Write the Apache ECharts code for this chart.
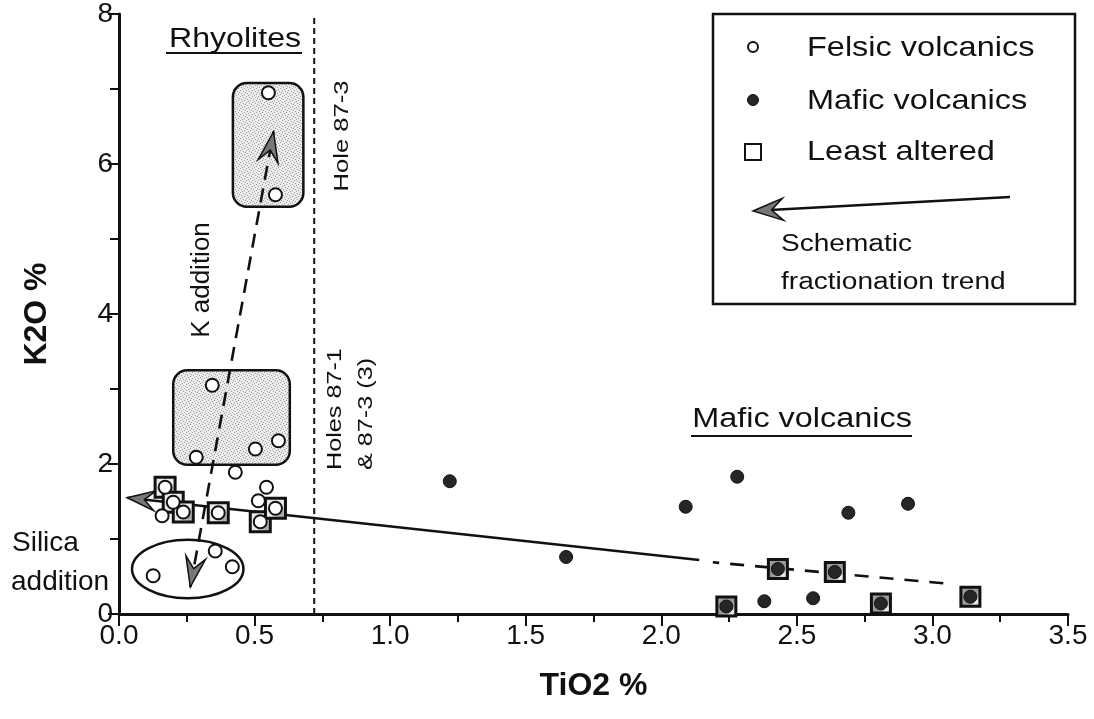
<!DOCTYPE html>
<html>
<head>
<meta charset="utf-8">
<script src="https://cdn.jsdelivr.net/npm/echarts@6/dist/echarts.min.js"></script>
<style>
  html, body { margin: 0; padding: 0; background: #fff; }
  #chart { width: 1094px; height: 719px; }
</style>
</head>
<body>
<div id="chart"></div>
<script>
// Axis ticks
const xTickValues = [0, 0.5, 1, 1.5, 2, 2.5, 3, 3.5];
const yTickValues = [0, 2, 4, 6, 8];

// TiO2 %, K2O %
const felsic = [
  [0.551, 6.95], [0.577, 5.59], [0.344, 3.05], [0.285, 2.09], [0.503, 2.20],
  [0.588, 2.31], [0.429, 1.89], [0.544, 1.69], [0.514, 1.51], [0.159, 1.31],
  [0.126, 0.51], [0.355, 0.84], [0.418, 0.63]
];
const mafic = [
  [1.22, 1.77], [1.649, 0.76], [2.09, 1.43], [2.28, 1.83], [2.38, 0.17],
  [2.56, 0.21], [2.69, 1.35], [2.91, 1.47]
];
const leastAlteredFelsic = [
  [0.170, 1.69], [0.200, 1.49], [0.237, 1.36], [0.366, 1.35], [0.521, 1.23], [0.577, 1.41]
];
const leastAlteredMafic = [
  [2.24, 0.10], [2.43, 0.60], [2.64, 0.56], [2.81, 0.14], [3.14, 0.23]
];

// Drill-hole boundary (TiO2 %)
const holeBoundary = [[0.72, 0], [0.72, 8]];
// Rhyolite fields: [xMin, yMin, xMax, yMax]
const rhyoliteFields = [[0.42, 5.43, 0.68, 7.08], [0.20, 1.99, 0.63, 3.25]];
// Silica-addition field: [xMin, yMin, xMax, yMax] of the ellipse
const silicaField = [[0.048, 0.21, 0.459, 0.99]];
// Fractionation trend (solid part ends in an arrow, dashed tail)
const trendSolid = [[2.14, 0.72, 0.03, 1.55]];
const trendDashed = [[3.04, 0.41, 2.19, 0.69]];
// K addition / silica addition vector (arrows at both ends)
const kAddition = [[0.263, 0.36, 0.57, 6.43]];

const FONT = '"Liberation Sans", Arial, Helvetica, sans-serif';

// light stipple used for the rhyolite fields and the least-altered squares
function makeStipple(bg, dots, dotColor) {
  const c = document.createElement('canvas');
  c.width = 6; c.height = 6;
  const g = c.getContext('2d');
  g.fillStyle = bg; g.fillRect(0, 0, 6, 6);
  g.fillStyle = dotColor;
  dots.forEach(d => g.fillRect(d[0], d[1], 1, 1));
  return { image: c, repeat: 'repeat' };
}
const stippleLight = makeStipple('#ececec', [[0,0],[3,1],[1,3],[4,4],[2,5],[5,2]], '#9a9a9a');
const stippleDark = makeStipple('#9a9a9a', [[0,0],[3,1],[1,3],[4,4],[2,5],[5,2]], '#ffffff');

function arrowHead(tip, from, len, half) {
  const dx = tip[0] - from[0], dy = tip[1] - from[1];
  const d = Math.hypot(dx, dy);
  const ux = dx / d, uy = dy / d;
  const px = -uy, py = ux;
  const bx = tip[0] - ux * len, by = tip[1] - uy * len;
  const nx = tip[0] - ux * len * 0.62, ny = tip[1] - uy * len * 0.62;
  return [tip, [bx + px * half, by + py * half], [nx, ny], [bx - px * half, by - py * half]];
}

function segmentRenderer(opts) {
  return function (params, api) {
    const a = api.coord([api.value(0), api.value(1)]);
    const b = api.coord([api.value(2), api.value(3)]);
    const children = [{
      type: 'line',
      shape: { x1: a[0], y1: a[1], x2: b[0], y2: b[1] },
      style: { stroke: '#111', lineWidth: opts.width, lineDash: opts.dash || null, fill: null }
    }];
    if (opts.headEnd) {
      children.push({ type: 'polygon', shape: { points: arrowHead(b, a, opts.len, opts.half) },
        style: { fill: '#777', stroke: '#111', lineWidth: 1.5 } });
    }
    if (opts.headStart) {
      children.push({ type: 'polygon', shape: { points: arrowHead(a, b, opts.len, opts.half) },
        style: { fill: '#777', stroke: '#111', lineWidth: 1.5 } });
    }
    return { type: 'group', children: children };
  };
}

const chart = echarts.init(document.getElementById('chart'), null, { renderer: 'canvas' });

function textEl(text, x, y, size, opts) {
  opts = opts || {};
  return {
    type: 'text', x: x, y: y, rotation: opts.rot || 0, scaleX: opts.sx || 1, z: 100,
    style: {
      text: text, fill: '#111', font: (opts.weight || 'normal') + ' ' + size + 'px ' + FONT,
      textAlign: opts.align || 'center', textVerticalAlign: opts.valign || 'middle'
    }
  };
}
function lineEl(x1, y1, x2, y2, w) {
  return { type: 'line', z: 100, shape: { x1: x1, y1: y1, x2: x2, y2: y2 }, style: { stroke: '#111', lineWidth: w } };
}

const legendArrow = arrowHead([753, 211], [1010, 197], 30, 11);

const option = {
  animation: false,
  backgroundColor: '#fff',
  grid: { left: 119, right: 26, top: 14, bottom: 105 },
  xAxis: {
    type: 'value', min: 0, max: 3.5, interval: 0.5,
    name: 'TiO2 %', nameLocation: 'middle', nameGap: 56,
    nameTextStyle: { fontFamily: FONT, fontWeight: 'bold', fontSize: 32, color: '#111' },
    axisLine: { show: true, onZero: false, lineStyle: { color: '#111', width: 3 } },
    axisTick: { show: true, inside: false, length: 12, lineStyle: { color: '#111', width: 2 } },
    minorTick: { show: true, splitNumber: 2, length: 8, lineStyle: { color: '#111', width: 2 } },
    axisLabel: { fontFamily: FONT, fontSize: 28, color: '#111', margin: 8,
      formatter: v => xTickValues.indexOf(v) >= 0 ? v.toFixed(1) : '' },
    splitLine: { show: false }
  },
  yAxis: {
    type: 'value', min: 0, max: 8, interval: 2,
    name: 'K2O %', nameLocation: 'middle', nameGap: 66, nameRotate: 90,
    nameTextStyle: { fontFamily: FONT, fontWeight: 'bold', fontSize: 32, color: '#111' },
    axisLine: { show: true, onZero: false, lineStyle: { color: '#111', width: 3 } },
    axisTick: { show: true, inside: false, length: 11, lineStyle: { color: '#111', width: 2 } },
    minorTick: { show: true, splitNumber: 2, length: 9, lineStyle: { color: '#111', width: 2 } },
    axisLabel: { fontFamily: FONT, fontSize: 28, color: '#111', margin: 6,
      formatter: v => yTickValues.indexOf(v) >= 0 ? String(v) : '' },
    splitLine: { show: false }
  },
  series: [
    {
      type: 'custom', name: 'rhyoliteFields', z: 1, silent: true,
      data: rhyoliteFields, encode: { x: [0, 2], y: [1, 3] },
      renderItem: function (params, api) {
        const p0 = api.coord([api.value(0), api.value(3)]);
        const p1 = api.coord([api.value(2), api.value(1)]);
        return { type: 'rect', shape: { x: p0[0], y: p0[1], width: p1[0] - p0[0], height: p1[1] - p0[1], r: 14 },
          style: { fill: stippleLight, stroke: '#111', lineWidth: 2.5 } };
      }
    },
    {
      type: 'custom', name: 'silicaField', z: 1, silent: true,
      data: silicaField, encode: { x: [0, 2], y: [1, 3] },
      renderItem: function (params, api) {
        const p0 = api.coord([api.value(0), api.value(3)]);
        const p1 = api.coord([api.value(2), api.value(1)]);
        return { type: 'ellipse', shape: { cx: (p0[0] + p1[0]) / 2, cy: (p0[1] + p1[1]) / 2,
          rx: (p1[0] - p0[0]) / 2, ry: (p1[1] - p0[1]) / 2 },
          style: { fill: null, stroke: '#111', lineWidth: 2.5 } };
      }
    },
    {
      type: 'line', name: 'holeBoundary', z: 2, silent: true, data: holeBoundary, symbol: 'none',
      lineStyle: { color: '#111', width: 2, type: [6, 4] }
    },
    {
      type: 'custom', name: 'trendSolid', z: 3, silent: true,
      data: trendSolid, encode: { x: [0, 2], y: [1, 3] },
      renderItem: segmentRenderer({ width: 2.6, headEnd: true, len: 28, half: 10 })
    },
    {
      type: 'custom', name: 'trendDashed', z: 3, silent: true,
      data: trendDashed, encode: { x: [0, 2], y: [1, 3] },
      renderItem: segmentRenderer({ width: 2.6, dash: [14, 11] })
    },
    {
      type: 'custom', name: 'kAddition', z: 3, silent: true,
      data: kAddition, encode: { x: [0, 2], y: [1, 3] },
      renderItem: segmentRenderer({ width: 2.6, dash: [14, 9], headEnd: true, headStart: true, len: 30, half: 10 })
    },
    {
      type: 'scatter', name: 'Least altered (mafic)', z: 5, data: leastAlteredMafic,
      symbol: 'rect', symbolSize: 19,
      itemStyle: { color: stippleDark, borderColor: '#111', borderWidth: 3, opacity: 1 }
    },
    {
      type: 'scatter', name: 'Least altered (felsic)', z: 5, data: leastAlteredFelsic,
      symbol: 'rect', symbolSize: 20,
      itemStyle: { color: stippleLight, borderColor: '#111', borderWidth: 3, opacity: 1 }
    },
    {
      type: 'scatter', name: 'Mafic volcanics', z: 6, data: mafic.concat(leastAlteredMafic),
      symbol: 'circle', symbolSize: 13,
      itemStyle: { color: '#262626', borderColor: '#111', borderWidth: 1, opacity: 1 }
    },
    {
      type: 'scatter', name: 'Felsic volcanics', z: 6, data: felsic.concat(leastAlteredFelsic),
      symbol: 'circle', symbolSize: 13,
      itemStyle: { color: '#fff', borderColor: '#111', borderWidth: 2, opacity: 1 }
    }
  ],
  graphic: [
    // legend
    { type: 'rect', z: 90, shape: { x: 713, y: 14, width: 362, height: 290 },
      style: { fill: '#fff', stroke: '#111', lineWidth: 2.5 } },
    { type: 'circle', z: 100, shape: { cx: 753, cy: 47, r: 5 }, style: { fill: '#fff', stroke: '#111', lineWidth: 2 } },
    { type: 'circle', z: 100, shape: { cx: 753, cy: 100, r: 5.5 }, style: { fill: '#262626', stroke: '#111', lineWidth: 1 } },
    { type: 'rect', z: 100, shape: { x: 745, y: 144, width: 16, height: 16 }, style: { fill: '#fff', stroke: '#111', lineWidth: 2 } },
    textEl('Felsic volcanics', 807, 48, 28, { align: 'left', sx: 1.16 }),
    textEl('Mafic volcanics', 807, 101, 28, { align: 'left', sx: 1.16 }),
    textEl('Least altered', 807, 152, 28, { align: 'left', sx: 1.16 }),
    lineEl(1010, 197, 770, 210, 2.5),
    { type: 'polygon', z: 100, shape: { points: legendArrow }, style: { fill: '#777', stroke: '#111', lineWidth: 1.5 } },
    textEl('Schematic', 781, 245, 23, { align: 'left', sx: 1.22 }),
    textEl('fractionation trend', 781, 283, 23, { align: 'left', sx: 1.22 }),
    // annotations
    textEl('Rhyolites', 235, 40, 27, { sx: 1.19 }),
    lineEl(166, 53, 302, 53, 2),
    textEl('Mafic volcanics', 802, 420, 27, { sx: 1.2 }),
    lineEl(691, 436, 912, 436, 2),
    textEl('K addition', 202, 280, 26, { rot: Math.PI / 2 }),
    textEl('Hole 87-3', 342, 136, 21, { rot: Math.PI / 2, sx: 1.22 }),
    textEl('Holes 87-1', 335, 470, 21, { rot: Math.PI / 2, sx: 1.2, align: 'left' }),
    textEl('& 87-3 (3)', 366, 470, 21, { rot: Math.PI / 2, sx: 1.2, align: 'left' }),
    textEl('Silica', 12, 543, 28, { align: 'left' }),
    textEl('addition', 11, 582, 28, { align: 'left' })
  ]
};

chart.setOption(option);
</script>
</body>
</html>
